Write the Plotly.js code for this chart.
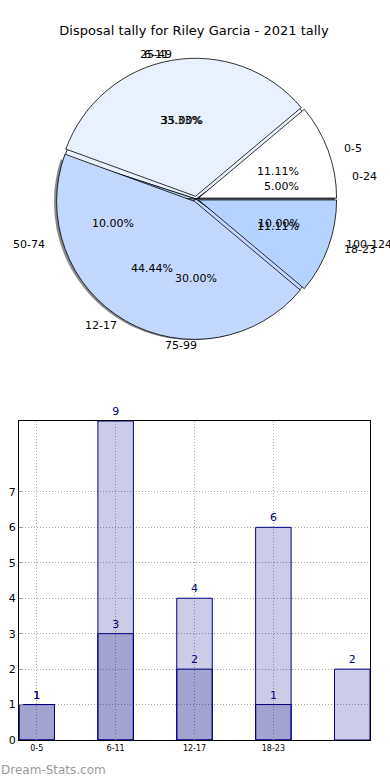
<!DOCTYPE html>
<html><head><meta charset="utf-8">
<script src="https://cdn.plot.ly/plotly-3.0.1.min.js"></script>
<style>html,body{margin:0;padding:0;background:#fff}#chart{width:390px;height:780px}</style>
</head><body><div id="chart"></div>
<script>
const titleText = 'Disposal tally for Riley Garcia - 2021 tally';

// Pie 1 (drawn on top)
const pie1Labels = ['0-5', '6-11', '12-17', '18-23'];
const pie1Values = [1, 3, 4, 1];
const pie1Colors = ['#ffffff', '#e9f1ff', '#c4d8ff', '#b4d4ff'];

// Pie 2 (drawn underneath, only labels visible)
const pie2Labels = ['0-24', '', '25-49', '', '50-74', '75-99', '100-124'];
const pie2Values = [5, 5, 35, 5, 10, 30, 10];
const pie2Colors = ['#ffffff', '#e9f1ff', '#e9f1ff', '#c4d8ff', '#c4d8ff', '#c4d8ff', '#b4d4ff'];

// Bars
const barCategories = ['0-5', '6-11', '12-17', '18-23', ''];
const barTotal = [1, 9, 4, 6, 2];
const barPart = [1, 3, 2, 1, null];
const yTickVals = [0, 1, 2, 3, 4, 5, 6, 7];

const W = 390, H = 780;
const FONT = 'DejaVu Sans, Liberation Sans, sans-serif';
const px = x => x / W;
const py = y => 1 - y / H;

// pie geometry (pixels)
const CX = 196, CY = 199, R = 138;
const TX = 145, TY = 133; // text ellipse radii
const pull1 = 0.02;

function domainFor(cx, cy, r, pull) {
  const h = r * (1 + pull);
  return {x: [px(cx - h), px(cx + h)], y: [py(cy + h), py(cy - h)]};
}

function pieTrace(values, colors, labels, domain, pull, lineW) {
  const total = values.reduce((a, b) => a + b, 0);
  // first slice starts at 3 o'clock and runs counter-clockwise
  const rot = 90 - values[0] / total * 360;
  return {
    type: 'pie', values: values, labels: labels.map((l, i) => l || ('_' + i)),
    marker: {colors: colors, line: {color: '#000', width: lineW}},
    sort: false, direction: 'counterclockwise', rotation: rot,
    textinfo: 'none', hoverinfo: 'skip', showlegend: false,
    pull: values.map(() => pull), domain: domain
  };
}

const shadowColors = pie2Values.map((v, i) => i >= 3 ? 'rgba(40,40,40,0.55)' : 'rgba(0,0,0,0)');
const traces = [
  pieTrace(pie2Values, shadowColors, pie2Labels, domainFor(CX - 4, CY + 3, R, 0), 0, 0),
  pieTrace(pie2Values, pie2Colors, pie2Labels, domainFor(CX, CY, R, 0), 0, 0.8),
  pieTrace(pie1Values, pie1Colors, pie1Labels, domainFor(CX, CY, R, pull1), pull1, 0.8)
];

const annotations = [];
function pieText(values, labels) {
  const total = values.reduce((a, b) => a + b, 0);
  let cum = 0;
  values.forEach((v, i) => {
    const mid = (cum + v / 2) / total * 2 * Math.PI;
    cum += v;
    if (!labels[i]) return;
    const c = Math.cos(mid), s = Math.sin(mid);
    annotations.push({
      xref: 'paper', yref: 'paper', x: px(CX + 1.1 * TX * c), y: py(CY - 1.1 * TY * s),
      text: labels[i], showarrow: false, xanchor: c > 0 ? 'left' : 'right', yanchor: 'middle',
      xshift: c > 0 ? -3 : 2, borderpad: 0,
      font: {family: FONT, size: 11, color: '#000'}
    });
    annotations.push({
      xref: 'paper', yref: 'paper', x: px(CX + 0.6 * TX * c), y: py(CY - 0.6 * TY * s),
      text: (v / total * 100).toFixed(2) + '%', showarrow: false, xanchor: 'center', yanchor: 'middle',
      borderpad: 0, font: {family: FONT, size: 11, color: '#000'}
    });
  });
}
pieText(pie2Values, pie2Labels);
pieText(pie1Values, pie1Labels);

annotations.push({
  xref: 'paper', yref: 'paper', x: 0, y: py(770), xanchor: 'left', yanchor: 'middle',
  text: 'Dream-Stats.com', showarrow: false, borderpad: 0, font: {family: FONT, size: 12, color: '#9a9a9a'}
});

const xIdx = barCategories.map((c, i) => i);
const tickIdx = xIdx.filter(i => barCategories[i] !== '');
function barTrace(y) {
  return {
    type: 'bar', x: xIdx, y: y, width: 0.45, xaxis: 'x', yaxis: 'y',
    marker: {color: 'rgba(0,0,128,0.2)', line: {color: '#000080', width: 1}},
    text: y.map(v => v == null ? '' : String(v)), textposition: 'outside', cliponaxis: false,
    textfont: {family: FONT, size: 11, color: '#000080'}, hoverinfo: 'skip', showlegend: false
  };
}
traces.push(barTrace(barTotal));
traces.push(barTrace(barPart));

const gridDash = '1px,2px';
const layout = {
  width: W, height: H, margin: {l: 0, r: 0, t: 0, b: 0},
  paper_bgcolor: '#fff', plot_bgcolor: '#fff',
  font: {family: FONT, color: '#000'},
  title: {text: titleText, x: px(194), xanchor: 'center', y: py(30), yanchor: 'middle',
          xref: 'paper', yref: 'paper', font: {family: FONT, size: 13, color: '#000'}},
  barmode: 'overlay', showlegend: false,
  xaxis: {domain: [px(19), px(370)], range: [-0.225, 4.225], tickvals: tickIdx,
          ticktext: tickIdx.map(i => barCategories[i]), tickfont: {size: 8},
          showline: true, mirror: true, linecolor: '#000', linewidth: 1,
          showgrid: true, gridcolor: '#a8a8a8', griddash: gridDash, gridwidth: 1,
          ticks: 'inside', ticklen: 4, tickcolor: '#999', zeroline: false, fixedrange: true},
  yaxis: {domain: [py(740), py(421)], range: [0, 9], tickvals: yTickVals, tickfont: {size: 11},
          showline: true, mirror: true, linecolor: '#000', linewidth: 1,
          showgrid: true, gridcolor: '#a8a8a8', griddash: gridDash, gridwidth: 1,
          ticks: 'inside', ticklen: 4, tickcolor: '#999', zeroline: false, fixedrange: true},
  annotations: annotations
};

Plotly.newPlot('chart', traces, layout, {displayModeBar: false, staticPlot: true});
</script>
</body></html>
